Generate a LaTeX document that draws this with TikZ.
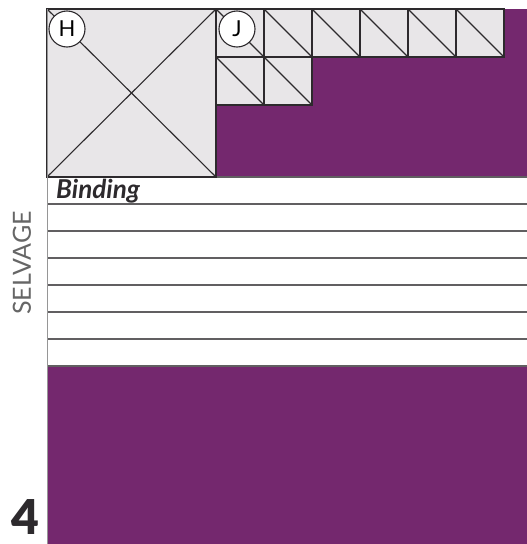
\documentclass[tikz,border=0pt]{standalone}
\usepackage{fontspec}
\setmainfont{Lato}
\newfontfamily\heavyfont{Lato Black}
\definecolor{quiltpurple}{RGB}{116,40,110}
\definecolor{patchgray}{RGB}{232,230,232}
\definecolor{seamgray}{RGB}{45,42,45}
\definecolor{edgegray}{RGB}{150,150,150}

\begin{document}
\begin{tikzpicture}[x=1pt,y=-1pt,
seam/.style={draw=seamgray,line width=1.1pt},
patch/.style={seam,fill=patchgray,rectangle,inner sep=0pt},
tag/.style={circle,draw=seamgray,fill=white,line width=1.1pt,
  minimum size=36pt,inner sep=0pt,font=\fontsize{22}{22}\selectfont}]
\useasboundingbox (0,0) rectangle (527,544);
% background of the quilt
\fill[quiltpurple] (47,9) rectangle (527,544);
% binding strips
\fill[white] (47,177) rectangle (527,366);
\foreach \k in {0,...,7}
  \draw[seam,draw=seamgray!75] (47,177+27*\k) -- (527,177+27*\k);
% big square H
\node[patch,minimum width=169pt,minimum height=168pt] (H) at (131.5,93) {};
\draw[seam] (H.north west) -- (H.south east);
\draw[seam] (H.south west) -- (H.north east);
% small squares J
\foreach \i in {1,...,6}
  \node[patch,minimum size=48pt] (J\i) at (192+48*\i,33) {};
\foreach \i in {1,2}
  \node[patch,minimum size=48pt] (K\i) at (192+48*\i,81) {};
\foreach \n in {J1,J2,J3,J4,J5,J6,K1,K2}
  \draw[seam] (\n.north west) -- (\n.south east);
% labels
\node[tag] (tagH) at (67,29) {H};
\node[tag] (tagJ) at (237,29) {J};
\draw[edgegray,line width=1pt] (47,9) -- (47,544);
\node[anchor=base west,font=\bfseries\itshape\fontsize{26}{26}\selectfont,
  text=seamgray,inner sep=0pt] (binding) at (56,198) {Binding};
\node[rotate=90,font=\fontsize{25}{25}\selectfont,text=black!60,
  inner sep=0pt] (selvage) at (22,263) {SELVAGE};
\node[anchor=south,font=\heavyfont\fontsize{48}{48}\selectfont,text=seamgray,
  inner sep=0pt] (num) at (25,535) {4};
\end{tikzpicture}
\end{document}
